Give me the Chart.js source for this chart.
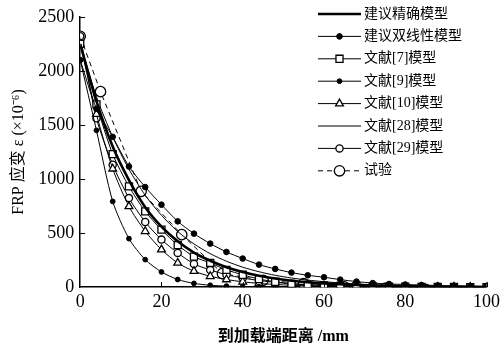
<!DOCTYPE html>
<html>
<head>
<meta charset="utf-8">
<script src="https://cdn.jsdelivr.net/npm/chart.js@4.4.1/dist/chart.umd.min.js"></script>
<style>
  html, body { margin: 0; padding: 0; background: #fff; }
  #wrap { width: 504px; height: 354px; }
</style>
</head>
<body>
<div id="wrap"><canvas id="strainChart"></canvas></div>
<script>
// distance from loaded end (mm)
const xModel = [0, 4, 8, 12, 16, 20, 24, 28, 32, 36, 40, 44, 48, 52, 56, 60, 64, 68, 72, 76, 80, 84, 88, 92, 96, 100]
const xTest = [0, 5, 15, 25, 35, 45, 55, 65, 75, 85]

// FRP strain (x10^-6)
const exactModel = [2250, 1720, 1300, 990, 740, 560, 425, 320, 245, 185, 140, 105, 80, 60, 46, 35, 27, 20, 15, 12, 9, 7, 5, 4, 3, 2]
const bilinearModel = [2100, 1650, 1390, 1116, 926, 763, 609, 495, 403, 326, 265, 209, 169, 135, 110, 92, 70, 52, 38, 30, 25, 20, 16, 13, 10, 8]
const ref7 = [2250, 1690, 1230, 932, 701, 532, 390, 283, 224, 160, 115, 75, 50, 30, 22, 16, 12, 9, 7, 5, 4, 3, 2, 2, 1, 1]
const ref9 = [2100, 1450, 793, 449, 255, 141, 71, 35, 18, 10, 6, 4, 3, 2, 1, 1, 0, 0, 0, 0, 0, 0, 0, 0, 0, 0]
const ref10 = [2250, 1600, 1095, 747, 517, 348, 224, 148, 101, 71, 50, 35, 25, 18, 13, 9, 7, 5, 4, 3, 2, 2, 1, 1, 1, 0]
const ref28 = [2250, 1760, 1390, 1090, 850, 665, 515, 400, 310, 240, 185, 143, 110, 85, 66, 51, 39, 30, 23, 18, 14, 11, 8, 6, 5, 4]
const ref29 = [2320, 1562, 1132, 824, 603, 440, 317, 215, 160, 115, 85, 62, 45, 33, 24, 17, 12, 9, 6, 4, 3, 2, 1, 0, 0, 0]
const testData = [2320, 1808, 886, 486, 126, 64, 34, 3, -10, -20]

const xTicks = [0, 20, 40, 60, 80, 100]
const yTicks = [0, 500, 1000, 1500, 2000, 2500]

const serif = '"Liberation Serif", "Times New Roman", "Noto Sans CJK SC", serif'
const cjk = '"Liberation Serif", "Noto Sans CJK SC", serif'

function pts(xs, ys) {
  return xs.map((x, i) => ({ x: x, y: ys[i] }))
}

function series(label, xs, ys, opts) {
  return Object.assign({
    label: label,
    data: pts(xs, ys),
    borderColor: '#000',
    backgroundColor: '#000',
    pointBorderColor: '#000',
    pointBackgroundColor: '#000',
    borderWidth: 1,
    pointRadius: 0,
    pointBorderWidth: 1,
    tension: 0.25,
    fill: false
  }, opts)
}

const datasets = [
  series('建议精确模型', xModel, exactModel, { borderWidth: 2.6 }),
  series('建议双线性模型', xModel, bilinearModel, { pointStyle: 'circle', pointRadius: 2.8 }),
  series('文献[7]模型', xModel, ref7, { pointStyle: 'rect', pointRadius: 5, pointBackgroundColor: '#fff', pointBorderWidth: 1.3 }),
  series('文献[9]模型', xModel, ref9, { pointStyle: 'circle', pointRadius: 2.4 }),
  series('文献[10]模型', xModel, ref10, { pointStyle: 'triangle', pointRadius: 4.5, pointBackgroundColor: '#fff', pointBorderWidth: 1.3 }),
  series('文献[28]模型', xModel, ref28, { borderWidth: 1 }),
  series('文献[29]模型', xModel, ref29, { pointStyle: 'circle', pointRadius: 3.6, pointBackgroundColor: '#fff', pointBorderWidth: 1.3 }),
  series('试验', xTest, testData, { borderDash: [5, 4], tension: 0, pointStyle: 'circle', pointRadius: 5.2, pointBackgroundColor: '#fff', pointBorderWidth: 1.3 })
]

// white page behind the chart
const background = {
  id: 'background',
  beforeDraw(chart) {
    const c = chart.ctx
    c.save()
    c.fillStyle = '#fff'
    c.fillRect(0, 0, chart.width, chart.height)
    c.restore()
  }
}

// ticks pointing into the plot
const innerTicks = {
  id: 'innerTicks',
  afterDraw(chart) {
    const c = chart.ctx
    const xs = chart.scales.x
    const ys = chart.scales.y
    const area = chart.chartArea
    c.save()
    c.strokeStyle = '#000'
    c.lineWidth = 1
    c.beginPath()
    xTicks.slice(1).forEach(v => {
      const px = Math.round(xs.getPixelForValue(v)) + 0.5
      c.moveTo(px, area.bottom)
      c.lineTo(px, area.bottom - 5)
    })
    yTicks.slice(1).forEach(v => {
      const py = Math.round(ys.getPixelForValue(v)) + 0.5
      c.moveTo(area.left, py)
      c.lineTo(area.left + 5, py)
    })
    c.stroke()
    c.restore()
  }
}

// legend: line sample with marker, as in the figure
const lineLegend = {
  id: 'lineLegend',
  afterDraw(chart) {
    const c = chart.ctx
    const x0 = 318, x1 = 361, top = 14, step = 22.4
    c.save()
    chart.data.datasets.forEach((ds, i) => {
      const y = top + i * step
      c.strokeStyle = '#000'
      c.lineWidth = ds.borderWidth
      c.setLineDash(ds.borderDash || [])
      c.beginPath()
      c.moveTo(x0, y)
      c.lineTo(x1, y)
      c.stroke()
      c.setLineDash([])
      if (ds.pointRadius > 0) {
        c.fillStyle = ds.pointBackgroundColor
        c.strokeStyle = '#000'
        c.lineWidth = ds.pointBorderWidth
        Chart.helpers.drawPoint(c, { pointStyle: ds.pointStyle, radius: ds.pointRadius, rotation: 0, borderWidth: ds.pointBorderWidth }, (x0 + x1) / 2, y)
      }
      c.fillStyle = '#000'
      c.font = '14px ' + cjk
      c.textBaseline = 'middle'
      c.fillText(ds.label, 364, y)
    })
    c.restore()
  }
}

new Chart(document.getElementById('strainChart'), {
  type: 'line',
  data: { datasets: datasets },
  plugins: [background, innerTicks, lineLegend],
  options: {
    responsive: true,
    maintainAspectRatio: false,
    animation: false,
    layout: { padding: { left: 9, right: 10, top: 6, bottom: 8 } },
    plugins: {
      legend: { display: false },
      tooltip: { enabled: false }
    },
    scales: {
      x: {
        type: 'linear',
        min: 0,
        max: 100,
        afterBuildTicks: axis => { axis.ticks = xTicks.map(v => ({ value: v })) },
        ticks: { color: '#000', font: { family: serif, size: 18 }, padding: 4, maxRotation: 0, callback: v => String(v) },
        grid: { display: false, drawTicks: false },
        border: { display: true, color: '#000', width: 1.5 },
        title: {
          display: true,
          text: '到加载端距离 /mm',
          color: '#000',
          font: { family: cjk, size: 16, weight: 'bold' },
          padding: { top: 10, bottom: 0 }
        }
      },
      y: {
        min: 0,
        max: 2500,
        afterBuildTicks: axis => { axis.ticks = yTicks.map(v => ({ value: v })) },
        ticks: { color: '#000', font: { family: serif, size: 18 }, padding: 6, callback: v => String(v) },
        grid: { display: false, drawTicks: false },
        border: { display: true, color: '#000', width: 1.5 },
        title: {
          display: true,
          text: 'FRP 应变 ε (×10⁻⁶)',
          color: '#000',
          font: { family: cjk, size: 16 },
          padding: { top: 0, bottom: 4 }
        }
      }
    }
  }
})
</script>
</body>
</html>
